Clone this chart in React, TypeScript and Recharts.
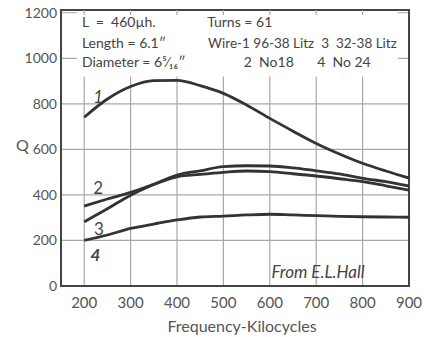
import { LineChart, Line, XAxis, YAxis, CartesianGrid, ReferenceArea, ReferenceDot, ReferenceLine } from 'recharts';

const freq = [200, 250, 300, 350, 400, 450, 500, 550, 600, 650, 700, 750, 800, 850, 900];
const q1 = [741, 821, 876, 902, 903, 880, 846, 795, 736, 680, 626, 580, 539, 505, 474];
const q2 = [351, 382, 411, 446, 479, 490, 499, 505, 502, 493, 483, 471, 458, 440, 421];
const q3 = [282, 339, 399, 446, 487, 506, 524, 528, 527, 519, 506, 492, 473, 458, 439];
const q4 = [200, 224, 253, 272, 290, 303, 307, 312, 315, 312, 309, 306, 304, 303, 302];

const xTicks = [200, 300, 400, 500, 600, 700, 800, 900];
const yTicks = [0, 200, 400, 600, 800, 1000, 1200];

const data = freq.map((f, i) => ({ f, q1: q1[i], q2: q2[i], q3: q3[i], q4: q4[i] }));

const FONT = 'Lato, "Open Sans", sans-serif';
const INK = '#333';

// text placed in data coordinates: [freq, Q, text, anchor, italic, size]
const notes: [number, number, string, 'start' | 'middle', boolean, number][] = [
  [195, 1159, 'L  =  460\u00b5h.', 'start', false, 14],
  [465, 1159, 'Turns = 61', 'start', false, 14],
  [195, 1067, 'Length = 6.1\u2033', 'start', false, 14],
  [467, 1067, 'Wire-1 96-38 Litz  3  32-38 Litz', 'start', false, 13.5],
  [195, 983, 'Diameter = 6\u2075\u2044\u2081\u2086\u2033', 'start', false, 14],
  [544, 983, '2  No18', 'start', false, 14],
  [702, 983, '4  No 24', 'start', false, 14],
  [230, 830, '1', 'middle', true, 17],
  [230, 432, '2', 'middle', false, 17],
  [232, 252, '3', 'middle', false, 17],
  [224, 136, '4', 'middle', true, 17],
  [704, 61, 'From E.L.Hall', 'middle', true, 17],
];

export default function App() {
  return (
    <div style={{ position: 'absolute', left: 0, top: 0, background: '#fff' }}>
      <LineChart width={425} height={337} data={data} margin={{ top: 10, right: 16, left: 0, bottom: 0 }}>
        <CartesianGrid stroke="#a8a8a8" strokeWidth={1.2} />
        <XAxis
          dataKey="f"
          type="number"
          domain={[150, 900]}
          ticks={xTicks}
          allowDataOverflow
          height={51}
          tickLine={false}
          axisLine={false}
          tickSize={6}
          tickMargin={5}
          tick={{ fill: '#555', fontSize: 15, fontFamily: FONT }}
          label={{ value: 'Frequency-Kilocycles', position: 'insideBottom', offset: 5, dx: 7, fill: '#555', fontSize: 16, fontFamily: FONT }}
        />
        <YAxis
          type="number"
          domain={[0, 1212]}
          ticks={yTicks}
          allowDataOverflow
          width={61}
          tickLine={false}
          axisLine={false}
          tickSize={2}
          tickMargin={2}
          tick={{ fill: '#555', fontSize: 14, fontFamily: FONT }}
          label={{ value: 'Q', position: 'insideLeft', offset: 16, dy: -3, fill: '#555', fontSize: 16, fontFamily: FONT }}
        />
        <ReferenceArea x1={184} x2={876} y1={920} y2={1212} fill="#fff" fillOpacity={1} stroke="none" />
        {[200, 300, 400, 500, 600, 700, 800].map(x => (
          <ReferenceLine key={x} segment={[{ x, y: 1212 }, { x, y: 1190 }]} stroke="#a8a8a8" strokeWidth={1.2} />
        ))}
        <ReferenceArea x1={150} x2={900} y1={0} y2={1212} fill="none" stroke="#444" strokeWidth={2} />
        <Line type="monotone" dataKey="q1" stroke={INK} strokeWidth={2.8} dot={false} isAnimationActive={false} />
        <Line type="monotone" dataKey="q2" stroke={INK} strokeWidth={2.8} dot={false} isAnimationActive={false} />
        <Line type="monotone" dataKey="q3" stroke={INK} strokeWidth={2.8} dot={false} isAnimationActive={false} />
        <Line type="monotone" dataKey="q4" stroke={INK} strokeWidth={2.8} dot={false} isAnimationActive={false} />
        {notes.map(([x, y, t, anchor, italic, size]) => (
          <ReferenceDot
            key={t}
            x={x}
            y={y}
            r={0}
            ifOverflow="visible"
            shape={(p: any) => (
              <text
                x={p.cx}
                y={p.cy}
                dy="0.35em"
                textAnchor={anchor}
                fill="#444"
                fontSize={size}
                fontStyle={italic ? 'italic' : 'normal'}
                fontWeight={t === '4' ? 'bold' : 'normal'}
                fontFamily={FONT}
                style={{ whiteSpace: 'pre' }}
              >
                {t}
              </text>
            )}
          />
        ))}
      </LineChart>
    </div>
  );
}
